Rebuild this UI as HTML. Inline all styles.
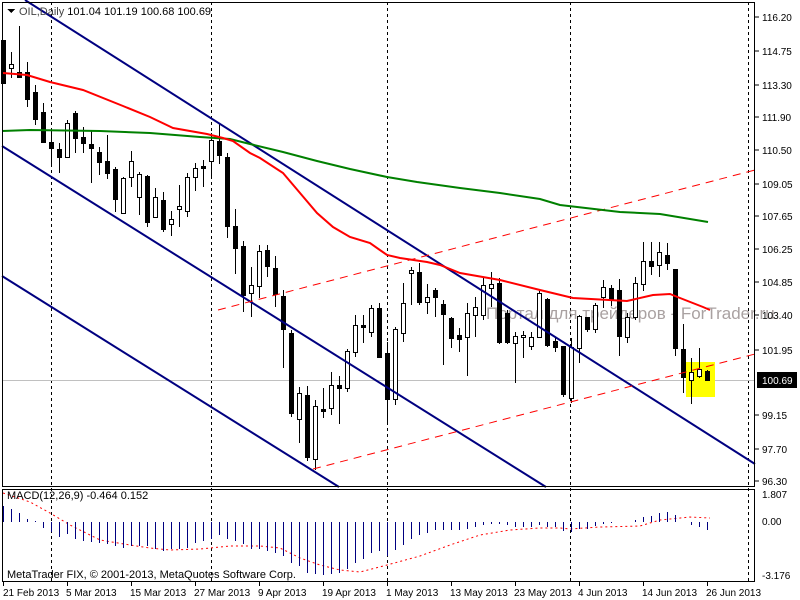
<!DOCTYPE html>
<html><head><meta charset="utf-8"><style>
html,body{margin:0;padding:0;background:#fff;}
svg{display:block;font-family:"Liberation Sans","DejaVu Sans",sans-serif;}
</style></head><body>
<svg id="s" width="800" height="600" xmlns="http://www.w3.org/2000/svg" shape-rendering="crispEdges">
<rect width="800" height="600" fill="#fff"/>
<g stroke="#000" stroke-dasharray="3,3" stroke-width="1">
<line x1="51.5" y1="2" x2="51.5" y2="582"/>
<line x1="211.5" y1="2" x2="211.5" y2="582"/>
<line x1="387.5" y1="2" x2="387.5" y2="582"/>
<line x1="570.5" y1="2" x2="570.5" y2="582"/>
<line x1="748.5" y1="2" x2="748.5" y2="582"/>
</g>
<line x1="2" y1="380.5" x2="755" y2="380.5" stroke="#c0c0c0"/>
<rect x="686" y="362" width="29" height="35" fill="#ffff00"/>
<text x="486" y="319" font-size="17" fill="#9b9191" opacity="0.85">Портал для трейдеров - ForTrader.ru</text>
<g id="cand"></g>
<g shape-rendering="auto" fill="none">
<line x1="25" y1="0" x2="755" y2="464" stroke="#000080" stroke-width="2"/>
<line x1="2" y1="146" x2="546" y2="487" stroke="#000080" stroke-width="2"/>
<line x1="2" y1="276" x2="339" y2="487" stroke="#000080" stroke-width="2"/>
<line x1="313" y1="469" x2="755" y2="354" stroke="#ff0000" stroke-width="1" stroke-dasharray="8,6"/>
<line x1="218" y1="310" x2="755" y2="170" stroke="#ff0000" stroke-width="1" stroke-dasharray="8,6"/>
<polyline stroke="#008000" stroke-width="2" points="2,131 30,130 100,131 150,133 200,137 230,139 250,144 283,152 317,161 350,169 387,177 417,182 460,188 500,193 540,199 560,205 620,212 660,214 708,222"/>
<polyline stroke="#ff0000" stroke-width="2" points="3,73 27,75 50,82 83,90 123,106 150,117 173,128 207,134 223,138 233,141 250,153 260,158 283,173 300,193 317,213 333,227 350,237 370,243 387,255 400,258 427,262 440,265 460,273 500,280 540,290 573,298 627,301 653,295 670,294 680,298 703,307 710,310"/>
<polyline stroke="#ff0000" stroke-width="1" stroke-dasharray="2,3" points="3,493 30,502 50,513 70,525 100,540 130,545 150,548 170,550 200,549 230,546 260,546 280,548 300,558 320,565 340,570 360,572 387,565 420,556 450,545 480,535 510,530 540,528 560,528 570,529 600,527 640,526 660,520 690,517 710,518"/>
</g>
<g id="hist" stroke="#000080" stroke-width="1"></g>
<g stroke="#000" fill="none">
<rect x="2.5" y="2.5" width="752" height="484"/>
<rect x="2.5" y="489.5" width="752" height="92"/>
</g>
<path d="M7 9 L15 9 L11 13 Z" fill="#000"/>
<text x="19" y="15" font-size="11" fill="#000"><tspan fill="#444">OIL,Daily</tspan>  101.04 101.19 100.68 100.69</text>
<text x="7" y="499" font-size="11" fill="#000">MACD(12,26,9) -0.464 0.152</text>
<text x="7" y="578" font-size="11" fill="#000">MetaTrader FIX, © 2001-2013, MetaQuotes Software Corp.</text>
<g font-size="10" fill="#000">
<text x="762" y="21">116.20</text>
<text x="762" y="55">114.75</text>
<text x="762" y="89">113.30</text>
<text x="762" y="121">111.90</text>
<text x="762" y="154">110.50</text>
<text x="762" y="188">109.05</text>
<text x="762" y="220">107.65</text>
<text x="762" y="253">106.25</text>
<text x="762" y="286">104.85</text>
<text x="762" y="319">103.40</text>
<text x="762" y="354">101.95</text>
<text x="762" y="419">99.15</text>
<text x="762" y="453">97.70</text>
<text x="762" y="485">96.30</text>
<text x="762" y="498">1.807</text>
<text x="762" y="525">0.00</text>
<text x="762" y="579">-3.176</text>
</g>
<rect x="757" y="372" width="40" height="16" fill="#000"/>
<text x="762" y="384" font-size="10" fill="#fff">100.69</text>
<g stroke="#000">
<line x1="755" y1="17" x2="759" y2="17"/><line x1="755" y1="51" x2="759" y2="51"/><line x1="755" y1="85" x2="759" y2="85"/>
<line x1="755" y1="117" x2="759" y2="117"/><line x1="755" y1="150" x2="759" y2="150"/><line x1="755" y1="184" x2="759" y2="184"/>
<line x1="755" y1="216" x2="759" y2="216"/><line x1="755" y1="249" x2="759" y2="249"/><line x1="755" y1="282" x2="759" y2="282"/>
<line x1="755" y1="315" x2="759" y2="315"/><line x1="755" y1="350" x2="759" y2="350"/><line x1="755" y1="415" x2="759" y2="415"/>
<line x1="755" y1="449" x2="759" y2="449"/><line x1="755" y1="481" x2="759" y2="481"/>
</g>
<g font-size="10" fill="#000">
<text x="3" y="596">21 Feb 2013</text>
<text x="66" y="596">5 Mar 2013</text>
<text x="130" y="596">15 Mar 2013</text>
<text x="194" y="596">27 Mar 2013</text>
<text x="258" y="596">9 Apr 2013</text>
<text x="322" y="596">19 Apr 2013</text>
<text x="386" y="596">1 May 2013</text>
<text x="450" y="596">13 May 2013</text>
<text x="514" y="596">23 May 2013</text>
<text x="578" y="596">4 Jun 2013</text>
<text x="642" y="596">14 Jun 2013</text>
<text x="706" y="596">26 Jun 2013</text>
</g>
<g stroke="#000">
<line x1="3.5" y1="582" x2="3.5" y2="586"/><line x1="67.5" y1="582" x2="67.5" y2="586"/><line x1="131.5" y1="582" x2="131.5" y2="586"/>
<line x1="195.5" y1="582" x2="195.5" y2="586"/><line x1="259.5" y1="582" x2="259.5" y2="586"/><line x1="323.5" y1="582" x2="323.5" y2="586"/>
<line x1="387.5" y1="582" x2="387.5" y2="586"/><line x1="451.5" y1="582" x2="451.5" y2="586"/><line x1="515.5" y1="582" x2="515.5" y2="586"/>
<line x1="579.5" y1="582" x2="579.5" y2="586"/><line x1="643.5" y1="582" x2="643.5" y2="586"/><line x1="707.5" y1="582" x2="707.5" y2="586"/>
</g>
</svg>
<script>
var C=[[1,40,83,40,83],[0,64,68,52,78],[1,72,77,26,78],[1,72,99,62,107],[1,92,119,85,125],[1,112,142,103,143],[1,142,148,130,167],[1,149,157,143,173],[0,123,157,120,157],[1,113,138,111,153],
[1,137,143,127,153],[1,144,148,130,183],[1,152,162,147,175],[1,161,173,135,179],[1,169,199,167,212],[0,178,213,177,213],[0,161,177,151,187],[0,174,197,172,215],[1,176,222,175,227],[0,197,217,188,217],
[1,200,229,192,232],[0,219,224,211,236],[0,206,209,185,227],[0,177,211,173,217],[0,168,177,163,191],[1,166,168,160,187],[0,140,161,133,178],[1,141,155,123,164],[1,157,226,153,238],[1,226,248,209,274],
[1,246,295,241,312],[0,285,293,267,317],[0,251,286,245,298],[1,250,266,245,277],[1,268,294,256,307],[1,296,329,290,368],[1,333,413,330,417],[0,393,419,387,443],[1,395,457,386,461],[0,406,459,400,470],
[1,409,411,388,418],[0,385,408,372,415],[1,385,388,376,424],[0,351,388,349,392],[0,325,352,315,357],[1,325,327,315,343],[0,308,332,305,337],[1,308,357,303,357],[1,353,399,342,425],[0,329,399,327,405],
[0,303,333,283,342],[0,270,273,267,305],[1,272,302,263,305],[0,297,302,284,314],[1,290,297,288,317],[1,304,314,300,365],[1,318,338,317,348],[1,335,339,328,352],[0,313,337,303,376],[0,307,315,297,337],
[0,285,315,277,320],[0,284,288,272,307],[1,283,342,278,344],[1,313,342,310,344],[0,336,343,332,383],[0,335,337,331,358],[0,337,346,332,350],[0,293,337,291,338],[1,299,345,298,347],[1,341,347,337,352],
[1,346,394,346,397],[0,347,398,338,403],[0,316,348,315,363],[1,317,329,317,332],[0,305,329,303,333],[0,287,297,280,308],[1,288,299,285,306],[1,290,336,279,356],[0,317,337,313,343],[0,283,317,277,320],
[0,261,284,242,291],[1,261,266,242,275],[0,252,265,242,277],[1,255,263,243,270],[1,269,348,269,356],[1,349,377,324,393],[0,372,380,358,404],[0,369,376,348,378],[1,371,380,370,381]];
var H=[-16,-13,-9,-3,-1,6,10,15,12,17,19,20,21,22,24,26,24,24,24,27,29,27,27,26,21,19,17,13,17,19,22,27,27,29,31,34,41,44,51,52,53,52,51,47,41,37,31,29,34,28,23,17,13,11,8,8,8,8,7,5,3,2,2,3,5,5,5,3,5,5,9,10,7,7,4,2,1,0,0,-2,-5,-6,-9,-10,-7,0,3,5,8];
var ns="http://www.w3.org/2000/svg",g=document.getElementById('cand'),h=document.getElementById('hist');
function el(t,a,p){var e=document.createElementNS(ns,t);for(var k in a)e.setAttribute(k,a[k]);p.appendChild(e);}
C.forEach(function(c,i){var x=3+8*i;
el('line',{x1:x+0.5,y1:c[3],x2:x+0.5,y2:c[4],stroke:'#000'},g);
var top=c[1],hgt=Math.max(1,c[2]-c[1]);
if(c[0])el('rect',{x:x-2,y:top,width:5,height:hgt+1,fill:'#000'},g);
else el('rect',{x:x-1.5,y:top+0.5,width:4,height:hgt,fill:'#fff',stroke:'#000'},g);});
H.forEach(function(v,i){if(v==0)return;var x=3+8*i+0.5;el('line',{x1:x,y1:522,x2:x,y2:522+v},h);});
</script>
</body></html>
